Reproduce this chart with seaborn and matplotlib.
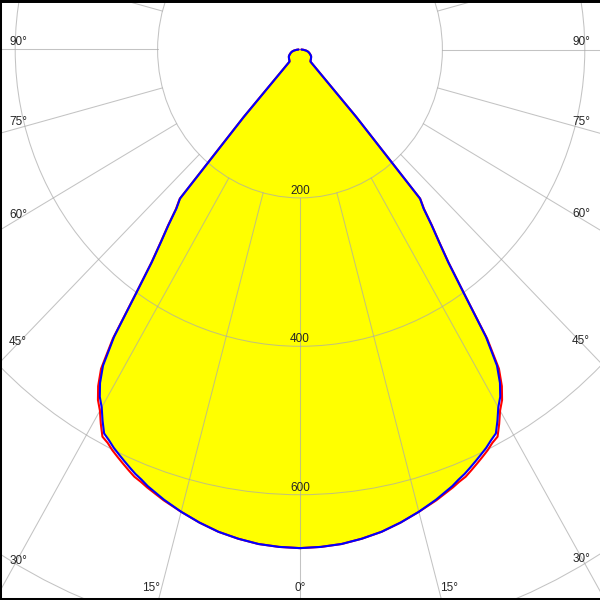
import numpy as np
import pandas as pd
import matplotlib
matplotlib.use('Agg')
import matplotlib.pyplot as plt
import matplotlib.patches as mpatches
import seaborn as sns

# polar light distribution, gamma angle [deg] vs intensity [cd/klm]
gamma    = [0, 2.5, 5, 7.5, 10, 12.5, 15, 17.5, 20,
            21, 22, 23, 24, 25, 26, 27, 28, 29, 30, 31, 32, 33, 34, 35, 36, 37, 38, 39, 40, 41, 42,
            45, 50, 55, 60, 65, 70, 75, 80, 85, 90]
c0_c180  = [672, 671, 669, 665, 660, 653, 645, 637, 628,
            624, 621, 616, 611, 606, 601, 595, 591, 577, 562, 551, 535, 513, 470, 403, 355, 325,
            301, 277, 263, 121, 22,
            21, 20, 19, 18, 16, 14, 12, 9, 5, 2]
c90_c270 = [672, 671, 669, 665, 660, 653, 645, 636, 626,
            621, 617, 612, 607, 602, 597, 591, 586, 572, 557, 546, 530, 508, 467, 402, 354, 324,
            300, 276, 262, 120, 22,
            21, 20, 19, 18, 16, 14, 12, 9, 5, 2]

ring_values   = [200, 400, 600, 800]
ring_labels   = ['200', '400', '600']
side_angles   = [90, 75, 60, 45, 30]
bottom_angles = [-15, 0, 15]

# picture geometry (pixels): centre of the diagram and px per cd
cx, cy = 300, 49.5
sx, sy = 0.712, 0.742
W = H = 600

sns.set_style('white')
plt.rcParams['font.family'] = ['Liberation Sans', 'DejaVu Sans']

fig = plt.figure(figsize=(6, 6), dpi=100)
ax = fig.add_axes([0, 0, 1, 1])


def half_plane(vals, name):
    g = np.radians(gamma)
    v = np.array(vals, dtype=float)
    # left half (C180 / C270) from 90 down to 0, then right half 0 -> 90
    xl = -(v * np.sin(g))[::-1]
    yl = -(v * np.cos(g))[::-1]
    xr = (v * np.sin(g))[1:]
    yr = -(v * np.cos(g))[1:]
    return pd.DataFrame({'plane': name,
                         'x': np.concatenate([xl, xr]),
                         'y': np.concatenate([yl, yr])})


red = half_plane(c0_c180, 'C0-C180')
blue = half_plane(c90_c270, 'C90-C270')
curves = pd.concat([red, blue], ignore_index=True)

ax.fill(blue.x, blue.y, color='#ffff00', lw=0, zorder=1)

# grid
gcol = '#aaaaaa'
for r in ring_values:
    ax.add_patch(mpatches.Circle((0, 0), r, fill=False, ec=gcol, lw=0.75,
                                 alpha=0.7, zorder=2))
for a in range(0, 360, 15):
    t = np.radians(a)
    ax.plot([200 * np.sin(t), 1500 * np.sin(t)], [-200 * np.cos(t), -1500 * np.cos(t)],
            color=gcol, lw=0.75, alpha=0.7, zorder=2)

sns.lineplot(data=curves, x='x', y='y', hue='plane', hue_order=['C0-C180', 'C90-C270'],
             palette=['#ff0000', '#0000ff'], sort=False, estimator=None,
             lw=1.5, legend=False, ax=ax, zorder=4)

fs = 8.5
for lab in ring_labels:
    ax.annotate(lab, xy=(0, -float(lab)), xytext=(0, 7), textcoords='offset pixels',
                ha='center', va='center', fontsize=fs, zorder=5)

# angle labels along the left / right edges
for a in side_angles:
    t = np.radians(a)
    for anchor, txt_px in [(12.4, 18), (W - 13.4, W - 19)]:
        xa = abs(anchor - cx) / sx
        ya = 0.0 if a == 90 else -xa / np.tan(t)
        ax.annotate(f'{a}°', xy=((txt_px - cx) / sx, ya), xytext=(0, 7.5),
                    textcoords='offset pixels', ha='center', va='center',
                    fontsize=fs, annotation_clip=False, zorder=5)

# angle labels along the bottom edge
yb = -(588 - cy) / sy
for a in bottom_angles:
    t = np.radians(a)
    xb = abs(yb) * np.tan(t)
    ax.annotate(f'{abs(a)}°', xy=(xb, yb), xytext=(40 * np.sin(t), 0),
                textcoords='offset pixels', ha='center', va='center',
                fontsize=fs, annotation_clip=False, zorder=5)

ax.set_xlim(-cx / sx, (W - cx) / sx)
ax.set_ylim(-(H - cy) / sy, cy / sy)
ax.set_xticks([])
ax.set_yticks([])
ax.set_xlabel('')
ax.set_ylabel('')

for s, lw in [('top', 4.3), ('left', 2.9), ('bottom', 2.9)]:
    ax.spines[s].set_color('black')
    ax.spines[s].set_linewidth(lw)
    ax.spines[s].set_zorder(10)
ax.spines['right'].set_visible(False)

fig.savefig('out.png', dpi=100)
